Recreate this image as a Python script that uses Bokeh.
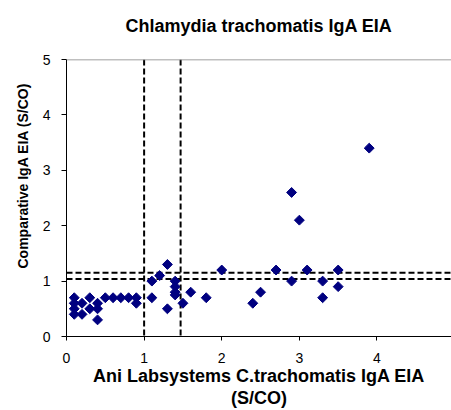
import math
from bokeh.plotting import figure
from bokeh.models import Span, FixedTicker, Title
from bokeh.embed import file_html
from bokeh.resources import INLINE

# Data
ani_x = [0.1, 0.1, 0.1, 0.1, 0.2, 0.2, 0.3, 0.3, 0.4, 0.4, 0.4,
         0.5, 0.6, 0.7, 0.8, 0.9, 0.9, 1.1, 1.1,
         1.2, 1.3, 1.3, 1.4, 1.4, 1.4, 1.4, 1.5, 1.6, 1.8,
         2.0, 2.4, 2.5, 2.7, 2.9, 2.9, 3.0, 3.1, 3.3, 3.3, 3.5, 3.5, 3.9]
comp_y = [0.7, 0.6, 0.5, 0.4, 0.6, 0.4, 0.7, 0.5, 0.6, 0.5, 0.3,
          0.7, 0.7, 0.7, 0.7, 0.7, 0.6, 0.7, 1.0,
          1.1, 1.3, 0.5, 1.0, 0.9, 0.8, 0.75, 0.6, 0.8, 0.7,
          1.2, 0.6, 0.8, 1.2, 1.0, 2.6, 2.1, 1.2, 1.0, 0.7, 1.2, 0.9, 3.4]
x_cutoffs = [1.0, 1.47]
y_cutoffs = [1.04, 1.15]
ticks = [0, 1, 2, 3, 4, 5]

FONT = "Liberation Sans"

p = figure(width=451, height=410, output_backend="svg", toolbar_location=None,
           x_range=(0, 4.96), y_range=(0, 5),
           min_border_left=66, min_border_right=0, min_border_top=59,
           min_border_bottom=72)
p.title.text = "Chlamydia trachomatis IgA EIA\n"
p.title.align = "center"
p.title.text_font = FONT
p.title.text_font_size = "18px"
p.title.text_font_style = "bold"
p.title.text_color = "black"
p.title.standoff = 8

p.grid.visible = False
p.outline_line_color = None
p.background_fill_color = "white"
p.border_fill_color = "white"

ytitle = Title(text="Comparative IgA EIA (S/CO)", align="left", offset=68,
               standoff=18, text_color="black",
               text_font=FONT, text_font_size="14px", text_font_style="bold")
p.add_layout(ytitle, "left")

for ax in (p.xaxis[0], p.yaxis[0]):
    ax.ticker = FixedTicker(ticks=ticks)
    ax.minor_tick_line_color = None
    ax.major_tick_in = 0
    ax.axis_line_color = "black"
    ax.major_tick_line_color = "black"
    ax.major_label_text_font = FONT
    ax.major_label_text_font_size = "14px"
    ax.major_label_text_color = "black"

p.yaxis.major_tick_out = 5
p.yaxis.major_label_standoff = 11
p.xaxis.major_tick_out = 4
p.xaxis.major_label_standoff = 12
p.xaxis.axis_label = "Ani Labsystems C.trachomatis IgA EIA\n(S/CO)"
p.xaxis.axis_label_text_font = FONT
p.xaxis.axis_label_text_font_size = "18px"
p.xaxis.axis_label_text_font_style = "bold"
p.xaxis.axis_label_text_color = "black"
p.xaxis.axis_label_standoff = 0
p.xaxis.axis_label_text_line_height = 1.1

p.add_layout(Span(location=ticks[-1], dimension="width", line_color="#808080", line_width=1.5))

for xc in x_cutoffs:
    p.add_layout(Span(location=xc, dimension="height", line_color="black",
                      line_width=2, line_dash="6 3", level="underlay"))
for yc in y_cutoffs:
    p.add_layout(Span(location=yc, dimension="width", line_color="black",
                      line_width=2, line_dash="6 3", level="underlay"))

p.scatter(ani_x, comp_y, marker="square", size=7, angle=math.pi / 4,
          fill_color="#000080", line_color="#000080")

open("out.html", "w").write(file_html(p, INLINE))
